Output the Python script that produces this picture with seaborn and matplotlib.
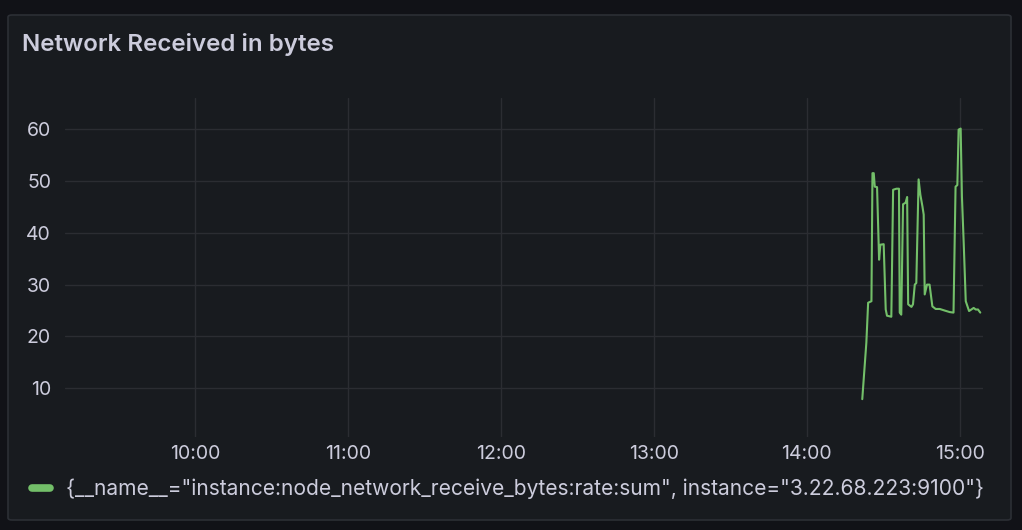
import pandas as pd
import matplotlib.pyplot as plt
import matplotlib.dates as mdates
from matplotlib.patches import FancyBboxPatch
import seaborn as sns

# series (today, local time)
times = ["14:21:48", "14:23:24", "14:24:06", "14:25:24", "14:25:48", "14:26:18", "14:26:42",
         "14:27:36", "14:28:24", "14:28:54", "14:30:12", "14:31:00", "14:31:30", "14:33:12",
         "14:33:54", "14:35:12", "14:36:12", "14:36:30", "14:37:06", "14:37:48", "14:38:48",
         "14:39:24", "14:39:48", "14:41:06", "14:41:42", "14:42:24", "14:43:00", "14:43:54",
         "14:44:36", "14:45:24", "14:45:54", "14:46:18", "14:47:12", "14:48:12", "14:49:18",
         "14:50:36", "14:52:12", "14:54:06", "14:56:06", "14:57:36", "14:58:24", "14:59:06",
         "14:59:36", "15:00:24", "15:00:54", "15:01:36", "15:02:24", "15:03:42", "15:04:36",
         "15:05:30", "15:06:18", "15:07:12", "15:08:06"]
values = [7.9, 18.8, 26.5, 26.8, 51.5, 51.5, 48.9,
          48.8, 34.8, 37.7, 37.8, 25.2, 24.0, 23.8,
          48.3, 48.5, 48.5, 24.6, 24.2, 45.5, 45.8,
          46.9, 26.2, 25.7, 26.2, 30.0, 30.3, 50.3,
          47.3, 45.1, 43.5, 28.1, 30.0, 30.0, 25.8,
          25.3, 25.3, 25.0, 24.7, 24.6, 48.9, 49.2,
          59.9, 60.1, 47.0, 38.0, 26.8, 24.9, 25.2,
          25.5, 25.2, 25.2, 24.6]
series_name = '{__name__="instance:node_network_receive_bytes:rate:sum", instance="3.22.68.223:9100"}'
y_ticks = [10, 20, 30, 40, 50, 60]
x_range = ["09:09:00", "15:09:10"]

day = "2024-01-01 "
df = pd.DataFrame({"time": pd.to_datetime([day + t for t in times]), "value": values})

sns.set_theme(style="dark")
plt.rcParams["font.family"] = ["Inter", "DejaVu Sans"]

bg = "#111217"
panel = "#181b1f"
text_c = "#ccccdc"
grid_c = "#2b2d32"
green = "#73bf69"

fig = plt.figure(figsize=(10.22, 5.30), dpi=100, facecolor=bg)
fig.patches.append(FancyBboxPatch((8 / 1022, 1 - 520 / 530), 1003 / 1022, 505 / 530,
                                  boxstyle="round,pad=0,rounding_size=0.004",
                                  transform=fig.transFigure, facecolor=panel,
                                  edgecolor="#2c2f35", linewidth=1.2, zorder=-5))

ax = fig.add_axes([65 / 1022, 1 - 437 / 530, (983 - 65) / 1022, (437 - 98) / 530])
ax.set_facecolor(panel)

sns.lineplot(data=df, x="time", y="value", ax=ax, color=green, linewidth=1.5,
             label=series_name)

ax.set_xlim(pd.to_datetime(day + x_range[0]), pd.to_datetime(day + x_range[1]))
ax.set_ylim(0.6, 66)
ax.set_yticks(y_ticks)
ax.xaxis.set_major_locator(mdates.HourLocator())
ax.xaxis.set_major_formatter(mdates.DateFormatter("%H:%M"))
ax.grid(True, color=grid_c, linewidth=1)
for s in ax.spines.values():
    s.set_visible(False)
ax.tick_params(colors=text_c, labelsize=14, length=0)
ax.tick_params(axis="x", pad=6)
ax.tick_params(axis="y", pad=10)
ax.set_xlabel("")
ax.set_ylabel("")

fig.text(22 / 1022, 1 - 44 / 530, "Network Received in bytes", color=text_c,
         fontsize=17.4, fontweight="semibold", va="center", ha="left")

leg = ax.legend(loc="center left", bbox_to_anchor=(32 / 1022, 1 - 489 / 530),
                bbox_transform=fig.transFigure, frameon=False, fontsize=15.1,
                borderaxespad=0, borderpad=0,
                handlelength=0.85, handletextpad=0.75, labelcolor=text_c)
for h in leg.get_lines():
    h.set_linewidth(5.5)
    h.set_solid_capstyle("round")

fig.savefig("out.png", dpi=100, facecolor=bg)
